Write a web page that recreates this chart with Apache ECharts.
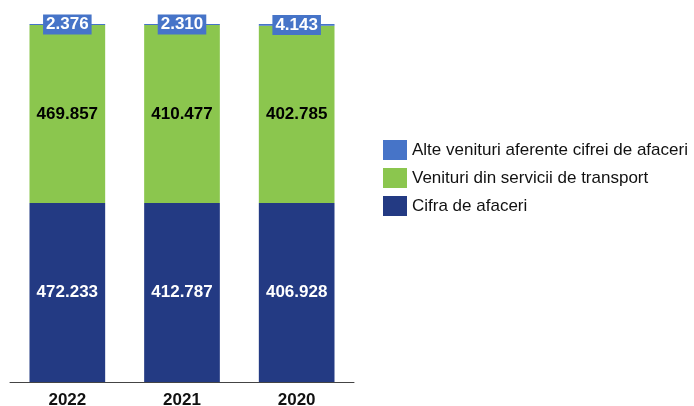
<!DOCTYPE html>
<html>
<head>
<meta charset="utf-8">
<script src="https://cdn.jsdelivr.net/npm/echarts@6/dist/echarts.min.js"></script>
<style>
  html, body { margin: 0; padding: 0; background: #fff; }
  #chart { width: 694px; height: 406px; }
</style>
</head>
<body>
<div id="chart"></div>
<script>
const years = ['2022', '2021', '2020']
// values in thousands (display uses dot as thousands separator)
const cifra = [472233, 412787, 406928]
const venituriTransport = [469857, 410477, 402785]
const alteVenituri = [2376, 2310, 4143]

const names = ['Cifra de afaceri', 'Venituri din servicii de transport', 'Alte venituri aferente cifrei de afaceri']
const colors = ['#233A83', '#8BC64E', '#4674C8']

const totals = years.map((y, i) => cifra[i] + venituriTransport[i] + alteVenituri[i])

function fmt(v) {
  return String(v).replace(/\B(?=(\d{3})+(?!\d))/g, '.')
}

function toPct(arr) {
  return arr.map((v, i) => ({ value: v / totals[i] * 100, raw: v }))
}

const chart = echarts.init(document.getElementById('chart'))

const labelFont = { fontFamily: 'Liberation Sans, Arial, sans-serif', fontWeight: 'bold', fontSize: 17 }

chart.setOption({
  animation: false,
  grid: { left: 10, right: 340, top: 24, bottom: 24, outerBoundsMode: 'none' },
  legend: {
    orient: 'vertical',
    left: 378,
    top: 135,
    itemWidth: 24,
    itemHeight: 20,
    itemGap: 8,
    icon: 'rect',
    data: [names[2], names[1], names[0]],
    textStyle: { fontFamily: 'Liberation Sans, Arial, sans-serif', fontSize: 17, color: '#111' }
  },
  xAxis: {
    type: 'category',
    data: years,
    axisLine: { lineStyle: { color: '#444', width: 1 } },
    axisTick: { show: false },
    axisLabel: { margin: 10, color: '#111', ...labelFont }
  },
  yAxis: {
    type: 'value',
    min: 0,
    max: 100,
    show: false,
    splitLine: { show: false }
  },
  series: [
    {
      name: names[0],
      type: 'bar',
      stack: 'total',
      barWidth: '66%',
      data: toPct(cifra),
      itemStyle: { color: colors[0] },
      label: {
        show: true,
        position: 'inside',
        color: '#fff',
        ...labelFont,
        formatter: p => fmt(p.data.raw)
      }
    },
    {
      name: names[1],
      type: 'bar',
      stack: 'total',
      data: toPct(venituriTransport),
      itemStyle: { color: colors[1] },
      label: {
        show: true,
        position: 'inside',
        color: '#000',
        ...labelFont,
        formatter: p => fmt(p.data.raw)
      }
    },
    {
      name: names[2],
      type: 'bar',
      stack: 'total',
      data: toPct(alteVenituri),
      itemStyle: { color: colors[2] },
      label: {
        show: true,
        position: 'inside',
        color: '#fff',
        backgroundColor: colors[2],
        padding: [2, 3, 1, 3],
        ...labelFont,
        formatter: p => fmt(p.data.raw)
      }
    }
  ]
})
</script>
</body>
</html>
